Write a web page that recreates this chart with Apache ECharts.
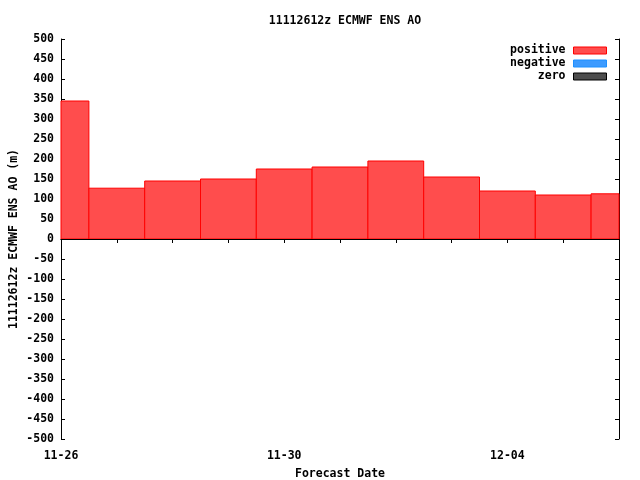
<!DOCTYPE html>
<html>
<head>
<meta charset="utf-8">
<script src="https://cdn.jsdelivr.net/npm/echarts@6/dist/echarts.min.js"></script>
<style>html,body{margin:0;padding:0;background:#fff}#c{width:640px;height:480px}</style>
</head>
<body>
<div id="c"></div>
<script>
// ---- data ----
const titleText = '11112612z ECMWF ENS AO';
const yAxisName = '11112612z ECMWF ENS AO (m)';
const xAxisName = 'Forecast Date';
const dates = ['2011-11-26','2011-11-27','2011-11-28','2011-11-29','2011-11-30','2011-12-01',
               '2011-12-02','2011-12-03','2011-12-04','2011-12-05','2011-12-06'];
const aoValues = [345, 127, 145, 150, 175, 180, 195, 155, 120, 110, 113];
const xStart = '2011-11-26';
const xEnd = '2011-12-06';
const yMin = -500, yMax = 500, yStep = 50;
const labelEveryDays = 4;

// ---- build ----
const DAY = 86400000;
const toMs = s => Date.parse(s + 'T00:00:00Z');
const T0 = toMs(xStart), T1 = toMs(xEnd);
const pad = n => (n < 10 ? '0' : '') + n;
const fmtDate = v => { const d = new Date(v); return pad(d.getUTCMonth() + 1) + '-' + pad(d.getUTCDate()); };

const posData = [], negData = [], zeroData = [];
dates.forEach((d, i) => {
  const v = aoValues[i];
  const item = [toMs(d), v];
  if (v > 0) posData.push(item); else if (v < 0) negData.push(item); else zeroData.push(item);
});

const FONT = 'DejaVu Sans Mono';
const styles = {
  positive: { fill: '#ff4d4d', stroke: '#ff0000' },
  negative: { fill: '#3d9bff', stroke: '#1e90ff' },
  zero: { fill: '#4d4d4d', stroke: '#000000' }
};

function makeRender(st) {
  return function (params, api) {
    const t = api.value(0), v = api.value(1);
    const a = api.coord([t - DAY / 2, v]);
    const b = api.coord([t + DAY / 2, 0]);
    const cs = params.coordSys;
    const rect = echarts.graphic.clipRectByRect(
      { x: a[0], y: Math.min(a[1], b[1]), width: b[0] - a[0], height: Math.abs(b[1] - a[1]) },
      { x: cs.x, y: cs.y, width: cs.width, height: cs.height });
    if (!rect) return null;
    return { type: 'rect', shape: rect, style: { fill: st.fill, stroke: st.stroke, lineWidth: 1 } };
  };
}

function boxSeries(name, data, withZeroLine) {
  const st = styles[name];
  const s = {
    name: name, type: 'custom', data: data, renderItem: makeRender(st),
    itemStyle: { color: st.fill, borderColor: st.stroke, borderWidth: 1 },
    encode: { x: 0, y: 1 }, z: 2
  };
  if (withZeroLine) {
    s.markLine = { silent: true, symbol: 'none', label: { show: false },
      lineStyle: { color: '#000', type: 'solid', width: 1 }, data: [{ yAxis: 0 }], z: 5 };
  }
  return s;
}

const axisCommon = {
  axisLine: { show: true, lineStyle: { color: '#000', width: 1 } },
  axisTick: { show: true, inside: true, length: 4, lineStyle: { color: '#000' } },
  splitLine: { show: false }
};

const chart = echarts.init(document.getElementById('c'), null, { renderer: 'canvas' });
chart.setOption({
  animation: false,
  backgroundColor: '#fff',
  textStyle: { fontFamily: FONT, fontWeight: 'bold' },
  title: {
    text: titleText, left: 340, top: 10, textAlign: 'center',
    textStyle: { fontFamily: FONT, fontWeight: 'bold', fontSize: 11.5, color: '#000' }
  },
  legend: {
    orient: 'vertical', right: 28, top: 39, align: 'right',
    itemWidth: 33, itemHeight: 7, itemGap: 0, icon: 'rect',
    textStyle: { fontFamily: FONT, fontWeight: 'bold', fontSize: 11.5, color: '#000', lineHeight: 13, padding: [0, 3, 0, 0] },
    data: [
      { name: 'positive', itemStyle: { color: styles.positive.fill, borderColor: styles.positive.stroke, borderWidth: 1 } },
      { name: 'negative', itemStyle: { color: styles.negative.fill, borderColor: styles.negative.stroke, borderWidth: 1 } },
      { name: 'zero', itemStyle: { color: styles.zero.fill, borderColor: styles.zero.stroke, borderWidth: 1 } }
    ]
  },
  grid: { left: 61, right: 21, top: 39, bottom: 41, containLabel: false, outerBoundsMode: 'none' },
  xAxis: [
    Object.assign({}, axisCommon, {
      type: 'value', position: 'bottom', min: T0, max: T1, interval: DAY,
      name: xAxisName, nameLocation: 'middle', nameGap: 29, nameMoveOverlap: false,
      nameTextStyle: { fontFamily: FONT, fontWeight: 'bold', fontSize: 11.5, color: '#000' },
      axisLabel: {
        show: true, margin: 11, color: '#000', fontFamily: FONT, fontWeight: 'bold', fontSize: 11.5,
        showMinLabel: true, showMaxLabel: true,
        formatter: v => (Math.round((v - T0) / DAY) % labelEveryDays === 0 ? fmtDate(v) : '')
      }
    }),
    Object.assign({}, axisCommon, {
      type: 'value', position: 'top', min: T0, max: T1, interval: DAY,
      axisLabel: { show: false }
    })
  ],
  yAxis: [
    Object.assign({}, axisCommon, {
      type: 'value', position: 'left', min: yMin, max: yMax, interval: yStep,
      name: yAxisName, nameLocation: 'middle', nameRotate: 90, nameGap: 41, nameMoveOverlap: false,
      nameTextStyle: { fontFamily: FONT, fontWeight: 'bold', fontSize: 11.5, color: '#000' },
      axisLabel: { show: true, margin: 7, color: '#000', fontFamily: FONT, fontWeight: 'bold', fontSize: 11.5 }
    }),
    Object.assign({}, axisCommon, {
      type: 'value', position: 'right', min: yMin, max: yMax, interval: yStep,
      axisLabel: { show: false }
    })
  ],
  series: [
    boxSeries('positive', posData, true),
    boxSeries('negative', negData, false),
    boxSeries('zero', zeroData, false)
  ]
});
</script>
</body>
</html>
